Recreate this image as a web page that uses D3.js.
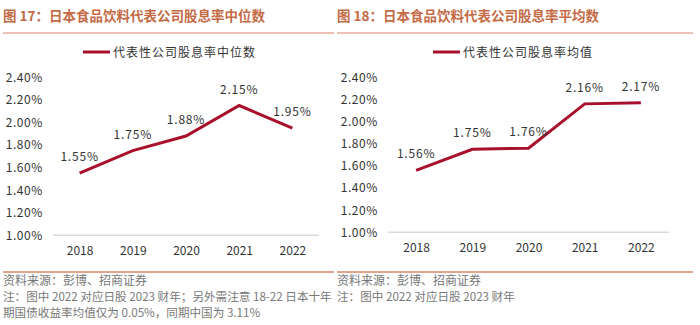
<!DOCTYPE html>
<html><head><meta charset="utf-8">
<script src="https://cdn.jsdelivr.net/npm/d3@7"></script>
<style>
body{margin:0;background:#fff;}
svg{display:block;}
text{font-family:"Noto Sans CJK SC","Liberation Sans",sans-serif;}
</style></head>
<body><svg id="c" width="700" height="325"></svg>
<script>
const years = ["2018","2019","2020","2021","2022"];
const medianValues = [1.55, 1.75, 1.88, 2.15, 1.95];
const meanValues = [1.56, 1.75, 1.76, 2.16, 2.17];
const yTicks = [1.0, 1.2, 1.4, 1.6, 1.8, 2.0, 2.2, 2.4];
const titles = ["图 17：日本食品饮料代表公司股息率中位数", "图 18：日本食品饮料代表公司股息率平均数"];
const legends = ["代表性公司股息率中位数", "代表性公司股息率均值"];
const sources = ["资料来源：彭博、招商证券", "资料来源：彭博、招商证券"];
const notesLeft = ["注：图中 2022 对应日股 2023 财年；另外需注意 18-22 日本十年", "期国债收益率均值仅为 0.05%，同期中国为 3.11%"];
const notesRight = ["注：图中 2022 对应日股 2023 财年"];

const svg = d3.select("#c");
const lineColor = "#a8102c";
const titleColor = "#c46a45";
const ruleColor = "#d9866a";

const panels = [
  {x0:3, x1:334, title:titles[0], legend:legends[0], values:medianValues,
   xr:[53,319], yr:[235.3,77.3], legX:83, legY:52, src:sources[0], notes:notesLeft},
  {x0:337, x1:693, title:titles[1], legend:legends[1], values:meanValues,
   xr:[388,669], yr:[232.3,77.3], legX:433, legY:52, src:sources[1], notes:notesRight}
];

panels.forEach(p => {
  const g = svg.append("g");
  g.append("text").attr("x", p.x0).attr("y", 21).attr("fill", titleColor)
    .attr("font-size", 13.5).attr("font-weight", "bold").text(p.title);
  g.append("line").attr("x1", p.x0).attr("x2", p.x1).attr("y1", 33).attr("y2", 33)
    .attr("stroke", ruleColor).attr("stroke-width", 1);
  g.append("line").attr("x1", p.x0).attr("x2", p.x1).attr("y1", 272).attr("y2", 272)
    .attr("stroke", ruleColor).attr("stroke-width", 1.5);

  // legend
  g.append("line").attr("x1", p.legX).attr("x2", p.legX + 27).attr("y1", p.legY).attr("y2", p.legY)
    .attr("stroke", lineColor).attr("stroke-width", 3);
  g.append("text").attr("x", p.legX + 30).attr("y", p.legY + 4.5).attr("font-size", 12)
    .attr("letter-spacing", 1).attr("fill", "#333").text(p.legend);

  const x = d3.scalePoint().domain(years).range(p.xr).padding(0.5);
  const y = d3.scaleLinear().domain([1.0, 2.4]).range(p.yr);

  // baseline
  g.append("line").attr("x1", p.xr[0]).attr("x2", p.xr[1]).attr("y1", y(1.0)).attr("y2", y(1.0))
    .attr("stroke", "#d9d9d9").attr("stroke-width", 1.5);

  const yAxis = d3.axisLeft(y).tickValues(yTicks).tickSize(0).tickPadding(10)
    .tickFormat(d => d3.format(".2f")(d) + "%");
  const ya = g.append("g").attr("transform", `translate(${p.xr[0]},0)`).call(yAxis);
  ya.select(".domain").remove();
  ya.selectAll("text").attr("font-family", "Liberation Sans, sans-serif").attr("font-size", 12)
    .attr("letter-spacing", 0.6).attr("fill", "#333");

  const xAxis = d3.axisBottom(x).tickSize(0).tickPadding(11);
  const xa = g.append("g").attr("transform", `translate(0,${y(1.0)})`).call(xAxis);
  xa.select(".domain").remove();
  xa.selectAll("text").attr("font-family", "Liberation Sans, sans-serif").attr("font-size", 12)
    .attr("fill", "#333");

  const line = d3.line().x((d, i) => x(years[i])).y(d => y(d));
  g.append("path").datum(p.values).attr("d", line).attr("fill", "none")
    .attr("stroke", lineColor).attr("stroke-width", 3).attr("stroke-linejoin", "miter");

  g.selectAll(".lbl").data(p.values).enter().append("text")
    .attr("x", (d, i) => x(years[i])).attr("y", d => y(d) - 12)
    .attr("text-anchor", "middle").attr("font-family", "Liberation Sans, sans-serif")
    .attr("font-size", 12).attr("letter-spacing", 0.8).attr("fill", "#333")
    .text(d => d3.format(".2f")(d) + "%");

  g.append("text").attr("x", p.x0).attr("y", 285).attr("font-size", 12).attr("fill", "#777").text(p.src);
  p.notes.forEach((t, i) => {
    g.append("text").attr("x", p.x0).attr("y", 301 + i * 16).attr("font-size", 11.6).attr("fill", "#777").text(t);
  });
});
</script></body></html>
